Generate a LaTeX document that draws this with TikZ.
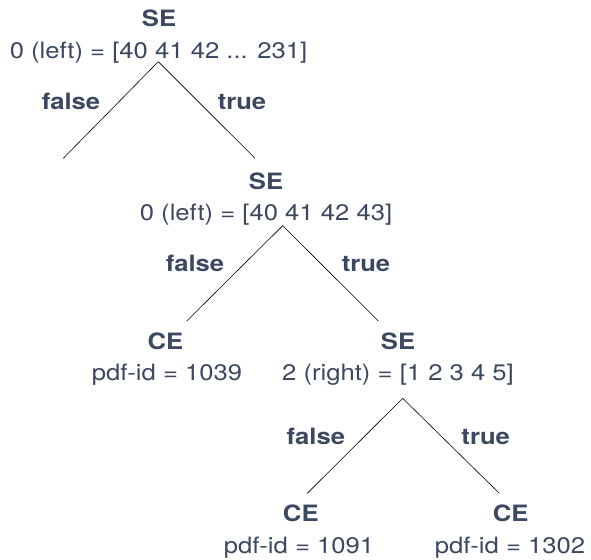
\documentclass[tikz,border=0pt]{standalone}
\usepackage{fontspec}
\setmainfont{TeX Gyre Heros}[FakeStretch=1.14]
\definecolor{txt}{RGB}{60,72,96}
\tikzset{
  lbl/.style={anchor=base, inner sep=0pt, text=txt, font=\fontsize{22.5}{27}\selectfont},
  head/.style={lbl, font=\fontsize{22.5}{27}\selectfont\bfseries},
  edge/.style={draw=black, line width=0.6pt},
}
\begin{document}
\begin{tikzpicture}[x=1pt,y=-1pt]
\useasboundingbox (0,0) rectangle (591,559);
% root
\node[head] (rh) at (159,26.7) {SE};
\node[lbl] (rt) at (158.5,58.3) {0 (left) = [40 41 42 ... 231]};
\coordinate (ra) at (158.3,61.7);
\coordinate (rl) at (63.3,158.3);
\coordinate (rr) at (255,158.3);
\draw[edge] (ra) -- (rl);
\draw[edge] (ra) -- (rr);
\node[head] (rf) at (71,110) {false};
\node[head] (rtr) at (242,110) {true};
% second SE
\node[head] (sh) at (266,189.3) {SE};
\node[lbl] (st) at (266,220.7) {0 (left) = [40 41 42 43]};
\coordinate (sa) at (282.7,225.7);
\coordinate (sl) at (186.7,321);
\coordinate (sr) at (378.3,321);
\draw[edge] (sa) -- (sl);
\draw[edge] (sa) -- (sr);
\node[head] (sf) at (195,271.7) {false};
\node[head] (str) at (366,271.7) {true};
% CE 1039
\node[head] (ch1) at (165.5,349.3) {CE};
\node[lbl] (ct1) at (167,380.7) {pdf-id = 1039};
% third SE
\node[head] (th) at (398,349.3) {SE};
\node[lbl] (tt) at (398,380.7) {2 (right) = [1 2 3 4 5]};
\coordinate (ta) at (402.7,398.3);
\coordinate (tl) at (307.3,493.3);
\coordinate (tr) at (499.3,493.3);
\draw[edge] (ta) -- (tl);
\draw[edge] (ta) -- (tr);
\node[head] (tf) at (315.8,444) {false};
\node[head] (ttr) at (485.7,444) {true};
% leaves
\node[head] (ch2) at (300.8,521.7) {CE};
\node[lbl] (ct2) at (299,553.3) {pdf-id = 1091};
\node[head] (ch3) at (510.7,521.7) {CE};
\node[lbl] (ct3) at (510,553.3) {pdf-id = 1302};
\end{tikzpicture}
\end{document}
